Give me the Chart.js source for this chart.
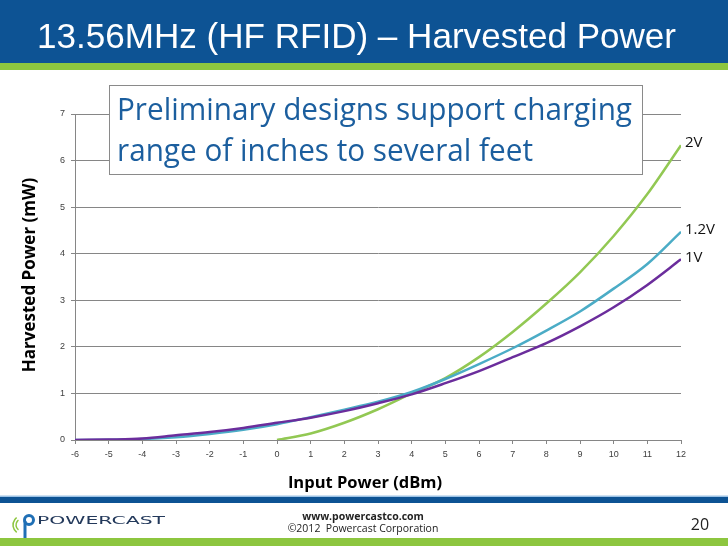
<!DOCTYPE html>
<html><head><meta charset="utf-8">
<script src="https://cdn.jsdelivr.net/npm/chart.js@4/dist/chart.umd.min.js"></script>
<style>html,body{margin:0;padding:0;background:#fff;overflow:hidden}#c{display:block}</style>
</head><body>
<canvas id="c" width="728" height="546"></canvas>
<script>
// ---- data ----
const inputPower   = [-6, -5, -4, -3, -2, -1, 0, 1, 2, 3, 4, 5, 6, 7, 8, 9, 10, 11, 12];
const harvested1V  = [0, 0.01, 0.03, 0.10, 0.17, 0.26, 0.37, 0.48, 0.62, 0.79, 0.98, 1.22, 1.48, 1.78, 2.08, 2.44, 2.85, 3.33, 3.88];
const harvested12V = [0, 0.005, 0.02, 0.06, 0.13, 0.22, 0.34, 0.49, 0.65, 0.82, 1.03, 1.31, 1.63, 1.97, 2.35, 2.76, 3.25, 3.78, 4.47];
const harvested2V  = [null, null, null, null, null, null, 0, 0.14, 0.37, 0.66, 1.00, 1.33, 1.78, 2.32, 2.93, 3.60, 4.38, 5.28, 6.33];
const seriesNames  = ['1V', '1.2V', '2V'];
const seriesColors = ['#6B2D9C', '#4BACC6', '#92C853'];
const xTicks = [-6, 12];   // min / max of input-power axis
const yTicks = [0, 7];     // min / max of harvested-power axis
const slideTitle = '13.56MHz (HF RFID) \u2013 Harvested Power';
const calloutLines = ['Preliminary designs support charging', 'range of inches to several feet'];
const xTitle = 'Input Power (dBm)';
const yTitle = 'Harvested Power (mW)';
const footerUrl = 'www.powercastco.com';
const footerCopy = '\u00A92012  Powercast Corporation';
const pageNo = '20';

function pts(ys) {
  const out = [];
  inputPower.forEach((x, i) => { if (ys[i] !== null) out.push({x: x, y: ys[i]}); });
  return out;
}

function fitText(ctx, text, x, y, font, targetW) {
  ctx.font = font;
  const w = ctx.measureText(text).width;
  ctx.save();
  ctx.translate(x, y);
  ctx.scale(targetW / w, 1);
  ctx.fillText(text, 0, 0);
  ctx.restore();
}

const slidePlugin = {
  id: 'slide',
  beforeDraw(chart) {
    const ctx = chart.ctx;
    ctx.save();
    ctx.fillStyle = '#ffffff';
    ctx.fillRect(0, 0, 728, 546);
    ctx.restore();
  },
  afterDatasetsDraw(chart) {
    const ctx = chart.ctx;
    ctx.save();
    ctx.fillStyle = '#111';
    ctx.font = '15px "Open Sans", sans-serif';
    ctx.textAlign = 'left';
    ctx.textBaseline = 'middle';
    chart.data.datasets.forEach((ds, i) => {
      const meta = chart.getDatasetMeta(i);
      const p = meta.data[meta.data.length - 1];
      ctx.fillText(ds.label, p.x + 4, p.y - 2);
    });
    ctx.restore();
  },
  afterDraw(chart) {
    const ctx = chart.ctx;
    ctx.save();
    // header
    ctx.fillStyle = '#0D5394';
    ctx.fillRect(0, 0, 728, 63);
    ctx.fillStyle = '#8DC63F';
    ctx.fillRect(0, 63, 728, 7);
    ctx.fillStyle = '#ffffff';
    ctx.textBaseline = 'alphabetic';
    ctx.textAlign = 'left';
    fitText(ctx, slideTitle, 37, 48, '35px "Liberation Sans", Arial, sans-serif', 639);

    // callout box
    ctx.fillStyle = '#ffffff';
    ctx.fillRect(109.5, 85.5, 533, 89);
    ctx.strokeStyle = '#8a8a8a';
    ctx.lineWidth = 1;
    ctx.strokeRect(109.5, 85.5, 533, 89);
    ctx.fillStyle = '#1B5E9E';
    ctx.font = '31px "Open Sans", sans-serif';
    const s = 515 / ctx.measureText(calloutLines[0]).width;
    [[calloutLines[0], 120], [calloutLines[1], 161]].forEach(([t, y]) => {
      ctx.save(); ctx.translate(117, y); ctx.scale(s, 1); ctx.fillText(t, 0, 0); ctx.restore();
    });

    // axis titles
    ctx.fillStyle = '#000';
    ctx.textAlign = 'center';
    ctx.textBaseline = 'middle';
    ctx.font = 'bold 16.5px "Open Sans", sans-serif';
    ctx.fillText(xTitle, 365, 483);
    ctx.save();
    ctx.translate(30, 275);
    ctx.rotate(-Math.PI / 2);
    ctx.font = 'bold 17px "Open Sans", sans-serif';
    ctx.fillText(yTitle, 0, 0);
    ctx.restore();

    // footer
    ctx.fillStyle = '#9DC3E6';
    ctx.fillRect(0, 495.5, 728, 1.5);
    ctx.fillStyle = '#0D5394';
    ctx.fillRect(0, 497, 728, 6);
    ctx.fillStyle = '#8DC63F';
    ctx.fillRect(0, 538, 728, 8);
    ctx.fillStyle = '#222';
    ctx.textAlign = 'center';
    ctx.textBaseline = 'alphabetic';
    ctx.font = 'bold 10.5px "Open Sans", sans-serif';
    ctx.fillText(footerUrl, 363, 520);
    ctx.font = '10.5px "Open Sans", sans-serif';
    ctx.fillText(footerCopy, 363, 532);
    ctx.font = '16px "Open Sans", sans-serif';
    ctx.fillText(pageNo, 700, 530);

    // logo
    ctx.strokeStyle = '#8DC63F';
    ctx.lineWidth = 1.5;
    ctx.beginPath(); ctx.arc(22, 525, 6, Math.PI * 0.7, Math.PI * 1.3); ctx.stroke();
    ctx.beginPath(); ctx.arc(22, 525, 9, Math.PI * 0.7, Math.PI * 1.3); ctx.stroke();
    ctx.strokeStyle = '#1F6FB5';
    ctx.lineWidth = 3;
    ctx.beginPath(); ctx.arc(29, 520, 4.5, 0, Math.PI * 2); ctx.stroke();
    ctx.beginPath(); ctx.moveTo(25, 521); ctx.lineTo(25, 538); ctx.stroke();
    ctx.fillStyle = '#23395B';
    ctx.textAlign = 'left';
    fitText(ctx, 'POWERCAST', 37, 524, '11px "DejaVu Sans", sans-serif', 128);
    ctx.restore();
  }
};

new Chart(document.getElementById('c'), {
  type: 'line',
  data: {
    datasets: [
      {label: seriesNames[0], data: pts(harvested1V),  borderColor: seriesColors[0]},
      {label: seriesNames[1], data: pts(harvested12V), borderColor: seriesColors[1]},
      {label: seriesNames[2], data: pts(harvested2V),  borderColor: seriesColors[2]}
    ]
  },
  options: {
    responsive: false,
    animation: false,
    layout: {padding: {left: 0, top: 114, right: 47, bottom: 0}},
    elements: {
      point: {radius: 0},
      line: {borderWidth: 2.5, cubicInterpolationMode: 'monotone', fill: false}
    },
    plugins: {legend: {display: false}, tooltip: {enabled: false}},
    scales: {
      x: {
        type: 'linear', min: xTicks[0], max: xTicks[1],
        ticks: {stepSize: 1, color: '#404040', font: {size: 9, family: '"Liberation Sans", sans-serif'}, padding: 5, maxRotation: 0},
        grid: {drawOnChartArea: false, drawTicks: true, tickLength: 4, color: '#868686'},
        border: {color: '#868686', width: 1},
        afterFit(scale) { scale.height = 106; }
      },
      y: {
        min: yTicks[0], max: yTicks[1],
        ticks: {stepSize: 1, color: '#404040', font: {size: 9, family: '"Liberation Sans", sans-serif'}, padding: 6},
        grid: {color: '#868686', lineWidth: 1, tickLength: 4},
        border: {color: '#868686', width: 1},
        afterFit(scale) { scale.width = 75; }
      }
    }
  },
  plugins: [slidePlugin]
});
</script>
</body></html>
